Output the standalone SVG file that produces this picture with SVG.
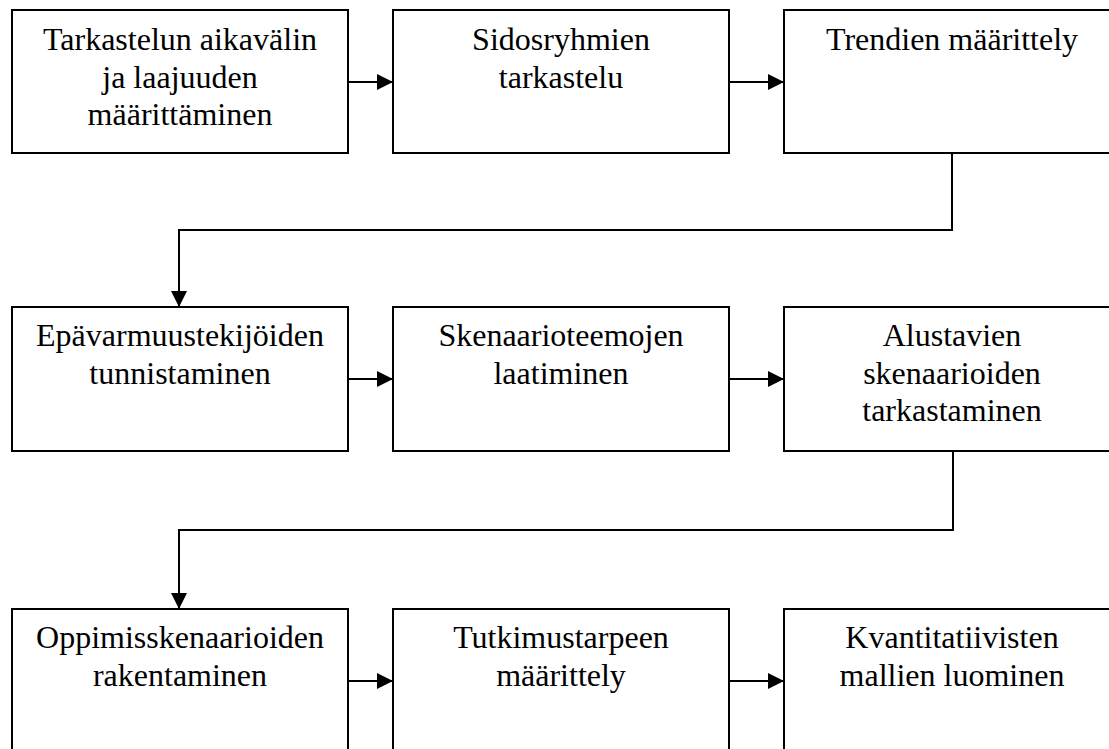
<svg xmlns="http://www.w3.org/2000/svg" width="1109" height="749" viewBox="0 0 1109 749">
<style>
.box{fill:#fff;stroke:#000;stroke-width:2}
.lbl{font-family:"Liberation Serif","Times New Roman",serif;font-size:32px;fill:#000;text-anchor:middle}
.con{fill:none;stroke:#000;stroke-width:2;marker-end:url(#ah)}
</style>
<defs>
<marker id="ah" markerUnits="userSpaceOnUse" markerWidth="16" markerHeight="16" refX="16" refY="8" orient="auto">
<path d="M0,0 L16,8 L0,16 z" fill="#000"/>
</marker>
</defs>
<rect width="1109" height="749" fill="#fff"/>
<g id="connectors">
<path class="con" d="M348,82 H393"/>
<path class="con" d="M729,82 H784"/>
<path class="con" d="M952,153 V230 H179 V307"/>
<path class="con" d="M348,379 H393"/>
<path class="con" d="M729,379 H784"/>
<path class="con" d="M953,451 V530 H179 V609"/>
<path class="con" d="M348,681 H393"/>
<path class="con" d="M729,681 H784"/>
</g>
<g id="n1"><rect class="box" x="12" y="10" width="336" height="143"/>
<text class="lbl" x="180" y="50">Tarkastelun aikavälin</text>
<text class="lbl" x="180" y="87.5">ja laajuuden</text>
<text class="lbl" x="180" y="125">määrittäminen</text></g>
<g id="n2"><rect class="box" x="393" y="10" width="336" height="143"/>
<text class="lbl" x="561" y="50">Sidosryhmien</text>
<text class="lbl" x="561" y="87.5">tarkastelu</text></g>
<g id="n3"><rect class="box" x="784" y="10" width="336" height="143"/>
<text class="lbl" x="952" y="50">Trendien määrittely</text></g>
<g id="n4"><rect class="box" x="12" y="307" width="336" height="144"/>
<text class="lbl" x="180" y="346">Epävarmuustekijöiden</text>
<text class="lbl" x="180" y="383.5">tunnistaminen</text></g>
<g id="n5"><rect class="box" x="393" y="307" width="336" height="144"/>
<text class="lbl" x="561" y="346">Skenaarioteemojen</text>
<text class="lbl" x="561" y="383.5">laatiminen</text></g>
<g id="n6"><rect class="box" x="784" y="307" width="336" height="144"/>
<text class="lbl" x="952" y="346">Alustavien</text>
<text class="lbl" x="952" y="383.5">skenaarioiden</text>
<text class="lbl" x="952" y="421">tarkastaminen</text></g>
<g id="n7"><rect class="box" x="12" y="609" width="336" height="144"/>
<text class="lbl" x="180" y="648">Oppimisskenaarioiden</text>
<text class="lbl" x="180" y="686">rakentaminen</text></g>
<g id="n8"><rect class="box" x="393" y="609" width="336" height="144"/>
<text class="lbl" x="561" y="648">Tutkimustarpeen</text>
<text class="lbl" x="561" y="686">määrittely</text></g>
<g id="n9"><rect class="box" x="784" y="609" width="336" height="144"/>
<text class="lbl" x="952" y="648">Kvantitatiivisten</text>
<text class="lbl" x="952" y="686">mallien luominen</text></g>
</svg>
